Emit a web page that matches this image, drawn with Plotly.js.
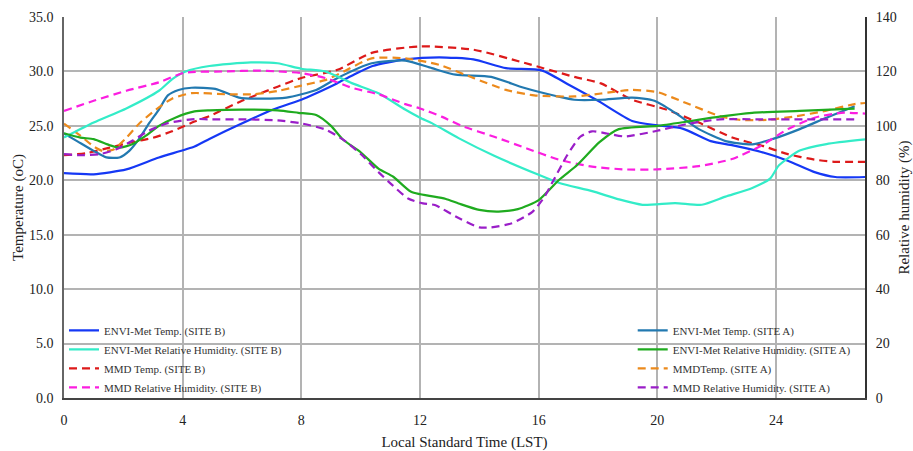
<!DOCTYPE html>
<html>
<head>
<meta charset="utf-8">
<script src="https://cdn.plot.ly/plotly-3.0.1.min.js"></script>
<style>html,body{margin:0;padding:0;background:#fff;}#chart{width:913px;height:451px;}</style>
</head>
<body>
<div id="chart"></div>
<script>
// ---- Data (hours in LST) ----
const envBTempHours = [0,1,2.1,3.2,4.4,4.9,5.9,7.05,8,8.5,9.2,9.7,10.4,11.5,12.65,13.8,14.9,16.1,17,18,19.15,20,20.85,21.8,22.55,23.5,24.4,25.3,26,27];
const envBTemp      = [20.65,20.55,21.0,22.1,23.1,23.8,25.1,26.5,27.4,28.0,28.9,29.6,30.5,31.1,31.3,31.1,30.3,30.1,28.8,27.3,25.45,25.05,24.75,23.6,23.2,22.6,21.8,20.75,20.3,20.3];

const envBRhHours = [0,1,2.1,3.2,3.65,4.1,4.9,6.3,7.2,8,8.8,9.7,10.6,11.5,12,12.4,13.3,14.5,16,16.7,17.8,18.7,19.5,20.6,21.5,22.3,23.2,23.8,24.1,24.8,25.7,27];
const envBRh      = [95.7,101.2,106.4,112.9,117.2,120,122,123.3,123,121,120,115.7,112,106,103,101,95.5,89,82,79,76,73,71,71.6,71,74,77.2,80.6,85.5,90.9,93.3,95];

const mmdBTempHours = [0,0.77,1.54,2.3,3,3.64,4.4,4.9,6,7.2,8,9.22,10.37,12,13.8,15.5,17.2,18.1,19.15,20.3,21.4,22.55,23.5,24.4,25.3,26,27];
const mmdBTemp      = [22.3,22.5,23.0,23.5,23.9,24.5,25.4,25.9,27.3,28.6,29.4,30.15,31.7,32.3,32.0,30.8,29.5,28.9,27.4,26.5,25.3,23.9,23.2,22.4,21.9,21.7,21.7];

const mmdBRhHours = [0,1,2.1,3.2,4.05,5.5,6.5,7.2,8,8.8,9.7,10.6,11.5,12,12.75,13.4,14.5,15.6,16.7,17.8,18.9,20,21.4,22.55,23.5,24.4,25.3,26.2,27];
const mmdBRh      = [105.5,109.2,112.9,116,119.5,120,120.3,120,119.4,117.6,114,111.6,108,106.4,103.3,100,96,91.7,87.5,85,84,84,85.2,87.9,92.7,98.8,103,104.8,104.5];

const envATempHours = [0,0.44,1,1.43,1.87,2.2,2.53,2.86,3.2,3.5,3.86,4.3,5.1,5.9,6.6,7.5,8.5,9.22,10.37,11.5,12.4,13.2,14.4,15.5,16.65,17.2,18.1,19.15,19.9,20.6,21.4,22.3,23.2,23.9,24.8,25.7,26.65];
const envATemp      = [24.3,23.6,22.7,22.1,22.1,22.7,23.8,25.2,26.5,27.8,28.3,28.5,28.4,27.6,27.5,27.6,28.3,29.4,30.75,31.0,30.3,29.7,29.5,28.5,27.7,27.4,27.4,27.6,27.3,26.2,24.7,23.6,23.3,23.8,24.7,25.75,26.8];

const envARhHours = [0,0.55,1,1.54,1.87,2.3,2.75,3.2,3.75,4.4,4.9,6,7.2,7.9,8.5,9.0,9.4,10,10.6,11.1,11.7,12.85,13.3,14,14.65,15.3,16,16.7,17.3,18.05,18.7,20,20.97,22.1,23.2,24.8,26.65];
const envARh      = [97.3,95.7,95.1,92.9,92,93.2,96.3,100,103,105.3,105.7,106,105.7,104.8,104,100,95,90.3,84.3,81.3,75.8,73.2,71.5,69.1,68.5,69.4,72.7,80.3,85.6,94,98.8,100,101.5,103.4,104.8,105.5,106.3];

const mmdATempHours = [0,0.55,1,1.3,1.65,2.1,2.53,3.1,3.64,4.3,5.5,6.4,7.2,8,8.8,9.22,10.37,11.5,12.65,13.8,14.9,15.85,17.2,18.1,19.15,20,20.97,22.1,22.8,23.7,24.6,25.7,26.65,27];
const mmdATemp      = [25.2,24.1,23.1,22.7,22.8,23.9,25.2,26.5,27.5,28.0,27.9,27.9,28.2,28.7,29.2,29.7,31.2,31.2,30.6,29.4,28.3,27.8,27.7,27.97,28.3,28.1,27.1,25.9,25.55,25.55,25.85,26.4,27.0,27.1];

const mmdARhHours = [0,0.55,1.2,1.76,2.3,2.86,3.5,4.4,4.9,6,7.2,8,8.8,9.4,10,10.6,11.07,11.6,12.1,12.5,13.3,14,14.4,15.1,15.8,16.2,16.5,16.95,17.4,17.8,18.3,18.9,20,20.97,22.1,23.5,25,26.8];
const mmdARh      = [89.6,89.2,89.6,91.4,94.5,98.2,101,102.5,102.4,102.4,102,100.9,98.7,95,89.7,83,78.2,73.3,71.5,70.9,66.1,62.7,62.7,64.2,68.5,74,80,89,96,98,97.2,96.1,98.2,100.6,102.4,102.4,102.4,102.4];

const seriesNames = [
  'ENVI-Met Temp. (SITE B)', 'ENVI-Met Relative Humidity. (SITE B)',
  'MMD Temp. (SITE B)', 'MMD Relative Humidity. (SITE B)',
  'ENVI-Met Temp. (SITE A)', 'ENVI-Met Relative Humidity. (SITE A)',
  'MMDTemp. (SITE A)', 'MMD Relative Humidity. (SITE A)'
];
const xTicks = [0,4,8,12,16,20,24];

// ---- Styling ----
const SERIF = '"Liberation Serif", "Times New Roman", serif';
const DASH = '8px,5px';
function tr(x, y, name, color, dash, axis, legend) {
  return {
    type: 'scatter', mode: 'lines', x: x, y: y, name: name,
    yaxis: axis, legend: legend,
    line: {color: color, width: 2.2, dash: dash, shape: 'spline', smoothing: 0.6}
  };
}
const data = [
  tr(envBTempHours, envBTemp, seriesNames[0], '#1538f5', 'solid', 'y', 'legend'),
  tr(envBRhHours, envBRh, seriesNames[1], '#33ecc8', 'solid', 'y2', 'legend'),
  tr(mmdBTempHours, mmdBTemp, seriesNames[2], '#dd1a1a', DASH, 'y', 'legend'),
  tr(mmdBRhHours, mmdBRh, seriesNames[3], '#fb1ee0', DASH, 'y2', 'legend'),
  tr(envATempHours, envATemp, seriesNames[4], '#2279b0', 'solid', 'y', 'legend2'),
  tr(envARhHours, envARh, seriesNames[5], '#1fab1f', 'solid', 'y2', 'legend2'),
  tr(mmdATempHours, mmdATemp, seriesNames[6], '#ec8a1c', DASH, 'y', 'legend2'),
  tr(mmdARhHours, mmdARh, seriesNames[7], '#9a1ec8', DASH, 'y2', 'legend2')
];

const legendCommon = {
  bgcolor: 'rgba(0,0,0,0)', borderwidth: 0,
  font: {family: SERIF, size: 11, color: '#333'},
  yanchor: 'bottom', y: -0.01, xanchor: 'left',
  tracegroupgap: 0, itemwidth: 30
};

const layout = {
  width: 913, height: 451,
  margin: {l: 64, r: 48, t: 17, b: 53},
  paper_bgcolor: '#fff', plot_bgcolor: '#fff',
  font: {family: SERIF, size: 14, color: '#222'},
  showlegend: true,
  legend: Object.assign({}, legendCommon, {x: 0.0}),
  legend2: Object.assign({}, legendCommon, {x: 0.71}),
  xaxis: {
    range: [0, 27], tickmode: 'array', tickvals: xTicks, ticktext: xTicks.map(String),
    showgrid: true, gridcolor: '#b3b3b3', gridwidth: 1.5,
    showline: true, linecolor: '#444', linewidth: 1.5,
    ticks: '', ticklabelstandoff: 8, zeroline: false,
    tickfont: {family: SERIF, size: 14, color: '#222'},
    title: {text: 'Local Standard Time (LST)', font: {family: SERIF, size: 15, color: '#222'}, standoff: 14}
  },
  yaxis: {
    range: [0, 35], dtick: 5, tickformat: '.1f',
    showgrid: true, gridcolor: '#b3b3b3', gridwidth: 1.5,
    showline: true, linecolor: '#666', linewidth: 1.5,
    ticks: '', ticklabelstandoff: 6, zeroline: false,
    tickfont: {family: SERIF, size: 14, color: '#222'},
    title: {text: 'Temperature (oC)', font: {family: SERIF, size: 15, color: '#222'}, standoff: 2}
  },
  yaxis2: {
    range: [0, 140], dtick: 20, overlaying: 'y', side: 'right',
    showgrid: false, showline: true, linecolor: '#333', linewidth: 2,
    ticks: '', ticklabelstandoff: 6, zeroline: false,
    tickfont: {family: SERIF, size: 14, color: '#222'},
    title: {text: 'Relative humidity (%)', font: {family: SERIF, size: 15, color: '#222'}, standoff: 10}
  }
};

Plotly.newPlot('chart', data, layout, {displayModeBar: false, responsive: false});
</script>
</body>
</html>
